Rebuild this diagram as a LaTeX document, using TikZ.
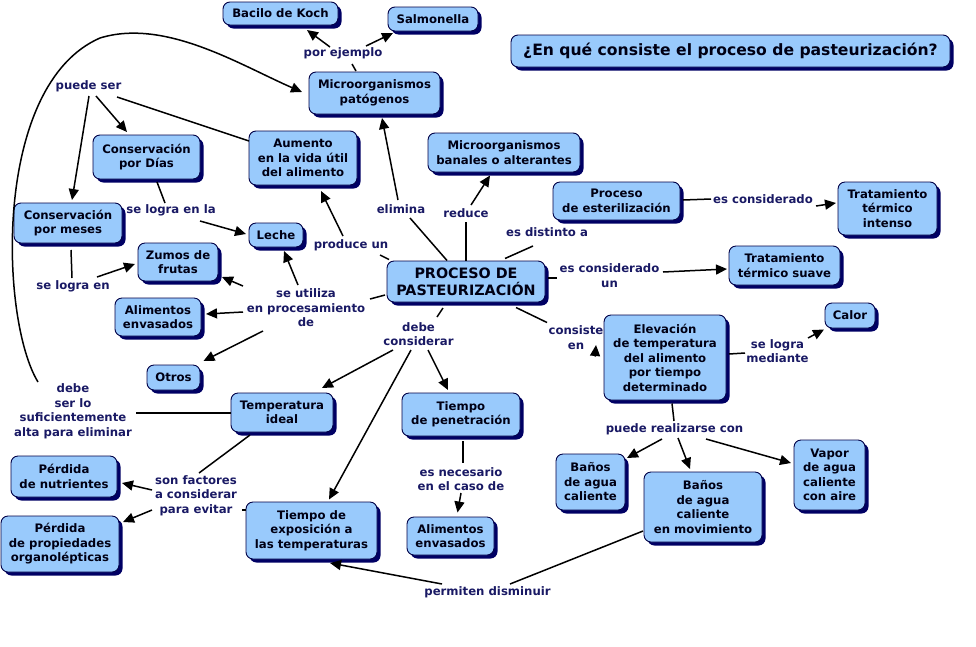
\documentclass[tikz,border=0pt]{standalone}
\usepackage{fontspec}
\setmainfont{DejaVu Sans}
\usetikzlibrary{shadows,arrows.meta,calc}
\definecolor{boxfill}{RGB}{153,202,252}
\definecolor{boxline}{RGB}{0,0,70}
\definecolor{shadowc}{RGB}{0,0,100}
\definecolor{boxtext}{RGB}{0,0,20}
\definecolor{linktext}{RGB}{25,25,100}
\tikzset{
  box/.style={rounded corners=7pt, draw=boxline, line width=0.9pt, fill=boxfill,
    align=center, inner sep=2pt, outer sep=0pt, text=boxtext,
    font=\fontsize{11.7}{14.5}\selectfont\bfseries,
    drop shadow={shadow xshift=3.5pt, shadow yshift=-3.5pt, fill=shadowc, opacity=1}},
  lbl/.style={align=center, inner sep=1pt, outer sep=0pt, text=linktext,
    font=\fontsize{11.7}{14.5}\selectfont\bfseries},
  conn/.style={line width=1.5pt, draw=black},
  arr/.style={conn, -{Triangle[length=11pt,width=10pt]}}
}
\begin{document}
\begin{tikzpicture}[x=1pt,y=-1pt]
\useasboundingbox (0,0) rectangle (976,646);
% boxes
\node[box, minimum width=115, minimum height=23] (koch) at (280.5,13.5) {Bacilo de Koch};
\node[box, minimum width=90, minimum height=24] (salm) at (433,19) {Salmonella};
\node[box, minimum width=439, minimum height=32, font=\fontsize{15.6}{18}\selectfont\bfseries] (title) at (730.5,51) {¿En qué consiste el proceso de pasteurización?};
\node[box, minimum width=131, minimum height=42] (patog) at (374.5,93) {Microorganismos\\patógenos};
\node[box, minimum width=107, minimum height=44] (cdias) at (146.5,157) {Conservación\\por Días};
\node[box, minimum width=108, minimum height=54] (aumento) at (303,158) {Aumento\\en la vida útil\\del alimento};
\node[box, minimum width=152, minimum height=39] (banales) at (504,152.5) {Microorganismos\\banales o alterantes};
\node[box, minimum width=127, minimum height=38] (ester) at (616.5,201) {Proceso\\de esterilización};
\node[box, minimum width=99, minimum height=53] (intenso) at (887.5,208.5) {Tratamiento\\térmico\\intenso};
\node[box, minimum width=108, minimum height=40] (cmeses) at (68,223) {Conservación\\por meses};
\node[box, minimum width=54, minimum height=24] (leche) at (276,235) {Leche};
\node[box, minimum width=80, minimum height=38] (zumos) at (178,262) {Zumos de\\frutas};
\node[box, minimum width=158, minimum height=41, font=\fontsize{14.3}{17}\selectfont\bfseries] (proceso) at (466,281.5) {PROCESO DE\\PASTEURIZACIÓN};
\node[box, minimum width=111, minimum height=39] (suave) at (784.5,265.5) {Tratamiento\\térmico suave};
\node[box, minimum width=86, minimum height=38] (alim1) at (158,317) {Alimentos\\envasados};
\node[box, minimum width=50, minimum height=25] (calor) at (850,315.5) {Calor};
\node[box, minimum width=122, minimum height=85] (elev) at (665,357.5) {Elevación\\de temperatura\\del alimento\\por tiempo\\determinado};
\node[box, minimum width=53, minimum height=25] (otros) at (173.5,377.5) {Otros};
\node[box, minimum width=102, minimum height=39] (tideal) at (282,412.5) {Temperatura\\ideal};
\node[box, minimum width=118, minimum height=43] (tpen) at (461,414.5) {Tiempo\\de penetración};
\node[box, minimum width=106, minimum height=41] (pnut) at (64,476.5) {Pérdida\\de nutrientes};
\node[box, minimum width=118, minimum height=56] (porg) at (60,544) {Pérdida\\de propiedades\\organolépticas};
\node[box, minimum width=131, minimum height=57] (texp) at (311.5,530.5) {Tiempo de\\exposición a\\las temperaturas};
\node[box, minimum width=87, minimum height=38] (alim2) at (450.5,536) {Alimentos\\envasados};
\node[box, minimum width=69, minimum height=56] (banos1) at (590.5,482) {Baños\\de agua\\caliente};
\node[box, minimum width=118, minimum height=70] (banos2) at (703,507) {Baños\\de agua\\caliente\\en movimiento};
\node[box, minimum width=71, minimum height=70] (vapor) at (829.5,475) {Vapor\\de agua\\caliente\\con aire};
% linking phrases
\node[lbl] (ejemplo) at (343,53) {por ejemplo};
\node[lbl] (puedeser) at (88.5,86) {puede ser};
\node[lbl] (selogrenla) at (171,210) {se logra en la};
\node[lbl] (selogren) at (73,286) {se logra en};
\node[lbl] (produce) at (351,245) {produce un};
\node[lbl] (elimina) at (401,209) {elimina};
\node[lbl] (reduce) at (466,213) {reduce};
\node[lbl] (distinto) at (547,232) {es distinto a};
\node[lbl] (escons1) at (763,199) {es considerado};
\node[lbl] (escons2) at (609.5,275.5) {es considerado\\un};
\node[lbl] (seutil) at (306,308) {se utiliza\\en procesamiento\\de};
\node[lbl] (debecons) at (418.5,334) {debe\\considerar};
\node[lbl] (consiste) at (576,337.5) {consiste\\en};
\node[lbl] (selogramed) at (777.5,351) {se logra\\mediante};
\node[lbl] (debeser) at (73,411.5) {debe\\ser lo\\suficientemente\\alta para eliminar};
\node[lbl] (sonfact) at (196,495.5) {son factores\\a considerar\\para evitar};
\node[lbl] (realizar) at (674.5,429) {puede realizarse con};
\node[lbl] (necesario) at (461,479) {es necesario\\en el caso de};
\node[lbl] (permiten) at (487.5,592) {permiten disminuir};
% connectors
\draw[conn] ($(patog)+(-18.5,-22)$) -- ($(ejemplo)+(9,11)$);
\draw[arr] ($(ejemplo)+(-13,-6)$) -- ($(koch)+(26.5,16.5)$);
\draw[arr] ($(ejemplo)+(23,-7)$) -- ($(salm)+(-40,14)$);
\draw[conn] ($(tideal)+(-51,0.5)$) -- ($(debeser)+(63,1.5)$);
\draw[arr] ($(debeser)+(-35,-29.5)$) .. controls (0,320) and (-8,85) .. (100,38)
   .. controls (165,18) and (240,65) .. ($(patog)+(-72.5,-1)$);
\draw[arr] ($(puedeser)+(7.5,10)$) -- ($(cdias)+(-19.5,-25)$);
\draw[arr] ($(puedeser)+(0.5,10)$) -- ($(cmeses)+(4,-23)$);
\draw[conn] ($(aumento)+(-54,-17)$) -- ($(puedeser)+(28.5,11)$);
\draw[conn] ($(cdias)+(10.5,25)$) -- ($(selogrenla)+(-6,-7)$);
\draw[arr] ($(selogrenla)+(29,11)$) -- ($(leche)+(-30,-1)$);
\draw[conn] ($(cmeses)+(3,27)$) -- ($(selogren)+(-1,-8)$);
\draw[arr] ($(selogren)+(24,-9)$) -- ($(zumos)+(-43,2)$);
\draw[conn] ($(proceso)+(-77,-22)$) -- ($(produce)+(29,10)$);
\draw[arr] ($(produce)+(-8,-9)$) -- ($(aumento)+(18,33)$);
\draw[conn] ($(proceso)+(-19,-21)$) -- ($(elimina)+(9,9)$);
\draw[arr] ($(elimina)+(-3,-9)$) -- ($(patog)+(7.5,25)$);
\draw[conn] ($(proceso)+(0,-21)$) -- ($(reduce)+(0,9)$);
\draw[arr] ($(reduce)+(5,-8)$) -- ($(banales)+(-14,23)$);
\draw[conn] ($(proceso)+(39,-23)$) -- ($(distinto)+(-14,14)$);
\draw[conn] ($(ester)+(66.5,-1)$) -- ($(escons1)+(-52,0)$);
\draw[arr] ($(escons1)+(53,7)$) -- ($(intenso)+(-51.5,-5.5)$);
\draw[conn] ($(proceso)+(82,-3.5)$) -- ($(escons2)+(-52.5,2.5)$);
\draw[arr] ($(escons2)+(53.5,-3.5)$) -- ($(suave)+(-57.5,3.5)$);
\draw[conn] ($(proceso)+(50,26)$) -- ($(consiste)+(-29,-15)$);
\draw[arr] ($(consiste)+(19,19)$) -- ($(elev)+(-69,-12.5)$);
\draw[conn] ($(elev)+(64,-3.5)$) -- ($(selogramed)+(-32.5,2)$);
\draw[arr] ($(selogramed)+(30.5,-13)$) -- ($(calor)+(-26,14)$);
\draw[conn] ($(elev)+(7,46)$) -- ($(realizar)+(-0.5,-8)$);
\draw[arr] ($(realizar)+(-12.5,10)$) -- ($(banos1)+(36.5,-24)$);
\draw[arr] ($(realizar)+(3.5,9)$) -- ($(banos2)+(-13,-38)$);
\draw[arr] ($(realizar)+(31.5,10)$) -- ($(vapor)+(-38.5,-12)$);
\draw[conn] ($(proceso)+(-81,13.5)$) -- ($(seutil)+(64,-9)$);
\draw[arr] ($(seutil)+(-8,-23)$) -- ($(leche)+(8,16)$);
\draw[arr] ($(seutil)+(-63,-22)$) -- ($(zumos)+(44,15)$);
\draw[arr] ($(seutil)+(-63,4)$) -- ($(alim1)+(48,-3)$);
\draw[arr] ($(seutil)+(-43,23)$) -- ($(otros)+(30,-16.5)$);
\draw[conn] ($(proceso)+(-23,26.5)$) -- ($(debecons)+(18.5,-17)$);
\draw[arr] ($(debecons)+(-25.5,16)$) -- ($(tideal)+(40,-24.5)$);
\draw[arr] ($(debecons)+(9.5,16)$) -- ($(tpen)+(-13,-24.5)$);
\draw[arr] ($(debecons)+(-7.5,16)$) -- ($(texp)+(17.5,-31)$);
\draw[conn] ($(tideal)+(-32,22.5)$) -- ($(sonfact)+(3,-22.5)$);
\draw[arr] ($(sonfact)+(-44,-5.5)$) -- ($(pnut)+(58,6.5)$);
\draw[arr] ($(sonfact)+(-44,14.5)$) -- ($(porg)+(63,-22)$);
\draw[conn] ($(texp)+(-65.5,-20.5)$) -- ($(sonfact)+(46,14.5)$);
\draw[conn] ($(tpen)+(2,26.5)$) -- ($(necesario)+(2,-16)$);
\draw[arr] ($(necesario)+(0,14)$) -- ($(alim2)+(7,-23.5)$);
\draw[conn] ($(banos2)+(-60,24)$) -- ($(permiten)+(22.5,-8)$);
\draw[arr] ($(permiten)+(-45.5,-8)$) -- ($(texp)+(18.5,32.5)$);
\end{tikzpicture}
\end{document}
